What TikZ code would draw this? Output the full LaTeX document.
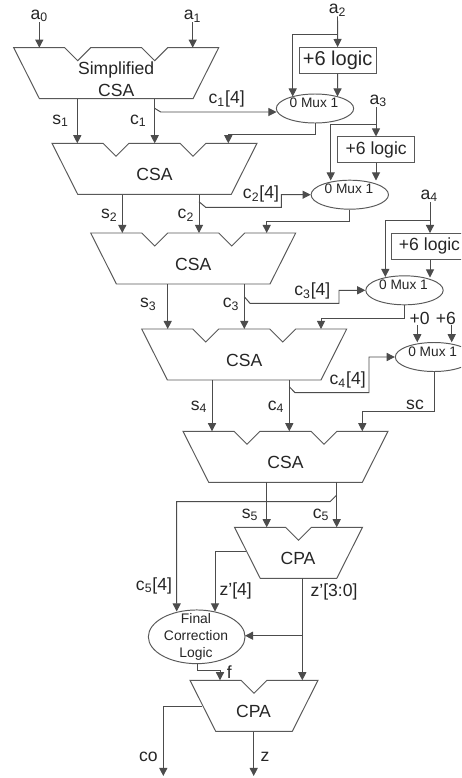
\documentclass[tikz,border=0pt]{standalone}
\usepackage{fontspec}
\setmainfont{Liberation Sans}
\usetikzlibrary{arrows.meta,shapes.geometric}

\tikzset{
  wire/.style={black!70, line width=0.55pt},
  sig/.style={wire, ->},
  blockline/.style={black!65, line width=0.55pt, line join=miter},
  blocktext/.style={align=center, font=\fontsize{10}{12}\selectfont, text=black!85, inner sep=0pt},
  muxnode/.style={draw=black!65, line width=0.55pt, ellipse, minimum width=1.548cm, minimum height=0.58cm, inner sep=0pt},
  muxtext/.style={font=\fontsize{7.8}{9}\selectfont, text=black!85, inner sep=0pt},
  logicbox/.style={draw=black!65, line width=0.55pt, minimum width=1.54cm, minimum height=0.51cm, inner sep=0pt, font=\fontsize{10}{12}\selectfont, text=black!85},
  lab/.style={font=\fontsize{10}{12}\selectfont, text=black!85, inner sep=0pt}
}

% carry-save block: name, left, top, text
\newcommand{\csablock}[4]{
  \begin{scope}[shift={(#2,#3)}]
    \draw[blockline] (0,0) -- (51,0) -- (64,13) -- (77,0) -- (128,0) -- (141,13) -- (154,0) -- (205,0) -- (179.3,51) -- (25.7,51) -- cycle;
    \node[blocktext] (#1) at (102.5,31.5) {#4};
    \coordinate (#1t) at (0,0);
    \coordinate (#1b) at (0,51);
  \end{scope}
}
% carry-propagate block: name, left, top
\newcommand{\cpablock}[3]{
  \begin{scope}[shift={(#2,#3)}]
    \draw[blockline] (0,0) -- (51,0) -- (64,13) -- (77,0) -- (128,0) -- (102.3,51) -- (25.7,51) -- cycle;
    \node[blocktext] (#1) at (63.5,31) {CPA};
    \coordinate (#1t) at (0,0);
    \coordinate (#1b) at (0,51);
  \end{scope}
}

\begin{document}
\begin{tikzpicture}[x=0.02cm, y=-0.02cm, >={Triangle[length=4.6pt,width=4.6pt]}]
  \clip (0,0) rectangle (461,778);
  \fill[white] (0,0) rectangle (461,778);

  % adder blocks
  \csablock{csa1}{13.7}{47.7}{Simplified\\CSA}
  \csablock{csa2}{52}{143.3}{CSA}
  \csablock{csa3}{90.7}{233}{CSA}
  \csablock{csa4}{141.7}{329}{CSA}
  \csablock{csa5}{183}{431.3}{CSA}
  \cpablock{cpa1}{234.5}{527.3}
  \cpablock{cpa2}{190}{680.3}

  % inputs
  \node[lab] (a0) at (39.3,16) {a\textsubscript{0}};
  \node[lab] (a1) at (192.7,16) {a\textsubscript{1}};
  \draw[sig] (a0.south) -- (a0.south |- csa1t);
  \draw[sig] (a1.south) -- (a1.south |- csa1t);

  % first correction stage
  \node[lab] (a2) at (337.5,10) {a\textsubscript{2}};
  \node[logicbox, font=\fontsize{11.4}{13}\selectfont] (box1) at (337.6,60.3) {+6 logic};
  \node[muxnode] (mux1) at (315,108.5) {};
  \node[muxtext] (mux1t) at (314,102.7) {0 Mux 1};
  \coordinate (tee1) at (337.5,34.7);
  \coordinate (mux1a) at (292.7,96.5);
  \coordinate (mux1b) at (337.5,96.5);
  \draw[sig] (a2.south) -- (box1.north);
  \draw[sig] (tee1) -| (mux1a);
  \draw[sig] (box1.south) -- (mux1b);

  \node[lab] (s1) at (60.7,120.7) {s\textsubscript{1}};
  \node[lab] (c1) at (138.3,120.7) {c\textsubscript{1}};
  \node[lab] (c1x) at (226.7,99.3) {c\textsubscript{1}[4]};
  \coordinate (s1o) at (77.3,98.7);
  \coordinate (c1o) at (154.7,98.7);
  \coordinate (c1k) at (154.7,108.3);
  \coordinate (c1e) at (160.7,112);
  \coordinate (mux1w) at (276.5,112);
  \coordinate (mux1o) at (228.3,134.3);
  \draw[sig] (s1o) -- (s1o |- csa2t);
  \draw[sig] (c1o) -- (c1o |- csa2t);
  \draw[sig] (c1k) -- (c1e) -- (mux1w);
  \draw[sig] (mux1.south) |- (mux1o) -- (mux1o |- csa2t);

  % second correction stage
  \node[lab] (a3) at (378.3,100.7) {a\textsubscript{3}};
  \node[logicbox] (box2) at (376.2,149.7) {+6 logic};
  \node[muxnode] (mux2) at (349.8,194.7) {};
  \node[muxtext] (mux2t) at (349,188.7) {0 Mux 1};
  \coordinate (tee2) at (376,124);
  \coordinate (mux2a) at (330.7,180.5);
  \coordinate (mux2b) at (376,180.5);
  \draw[sig] (a3.south -| tee2) -- (box2.north -| tee2);
  \draw[sig] (tee2) -| (mux2a);
  \draw[sig] (box2.south -| tee2) -- (mux2b);

  \node[lab] (s2) at (109.3,215) {s\textsubscript{2}};
  \node[lab] (c2) at (186,215) {c\textsubscript{2}};
  \node[lab] (c2x) at (261,194.3) {c\textsubscript{2}[4]};
  \coordinate (s2o) at (122.3,194.7);
  \coordinate (c2o) at (199,194.7);
  \coordinate (c2k) at (199,201.7);
  \coordinate (c2e) at (205.7,207.3);
  \coordinate (c2j) at (281.3,207.3);
  \coordinate (mux2o) at (266.7,221.3);
  \draw[sig] (s2o) -- (s2o |- csa3t);
  \draw[sig] (c2o) -- (c2o |- csa3t);
  \draw[sig] (c2k) -- (c2e) -- (c2j) |- (mux2.west);
  \draw[sig] (mux2.south) |- (mux2o) -- (mux2o |- csa3t);

  % third correction stage
  \node[lab] (a4) at (429.3,195.7) {a\textsubscript{4}};
  \node[logicbox] (box3) at (429.5,246.3) {+6 logic};
  \node[muxnode] (mux3) at (404.5,290.3) {};
  \node[muxtext] (mux3t) at (403.5,285) {0 Mux 1};
  \coordinate (tee3) at (430,220);
  \coordinate (mux3a) at (385.3,277);
  \coordinate (mux3b) at (430,277.5);
  \draw[sig] (a4.south -| tee3) -- (box3.north -| tee3);
  \draw[sig] (tee3) -| (mux3a);
  \draw[sig] (box3.south -| tee3) -- (mux3b);

  \node[lab] (s3) at (148.3,304.3) {s\textsubscript{3}};
  \node[lab] (c3) at (231,304.3) {c\textsubscript{3}};
  \node[lab] (c3x) at (312.3,291) {c\textsubscript{3}[4]};
  \coordinate (s3o) at (167.7,284.3);
  \coordinate (c3o) at (244.3,284.3);
  \coordinate (c3k) at (244.3,296.7);
  \coordinate (c3e) at (250,303.3);
  \coordinate (c3j) at (339,303.3);
  \coordinate (mux3o) at (321,318.3);
  \draw[sig] (s3o) -- (s3o |- csa4t);
  \draw[sig] (c3o) -- (c3o |- csa4t);
  \draw[sig] (c3k) -- (c3e) -- (c3j) |- (mux3.west);
  \draw[sig] (mux3.south) |- (mux3o) -- (mux3o |- csa4t);

  % fourth stage, sc
  \node[lab] (p0) at (419.7,318.5) {+0};
  \node[lab] (p6) at (446,318.5) {+6};
  \node[muxnode] (mux4) at (434,357) {};
  \node[muxtext] (mux4t) at (432.7,351.7) {0 Mux 1};
  \coordinate (mux4a) at (417.3,342.3);
  \coordinate (mux4b) at (451.7,342.3);
  \draw[sig] (mux4a |- p0.south) -- (mux4a);
  \draw[sig] (mux4b |- p6.south) -- (mux4b);

  \node[lab] (s4) at (199,406.7) {s\textsubscript{4}};
  \node[lab] (c4) at (276,406.7) {c\textsubscript{4}};
  \node[lab] (c4x) at (347.7,380) {c\textsubscript{4}[4]};
  \node[lab] (sc) at (415,405) {sc};
  \coordinate (s4o) at (212,380);
  \coordinate (c4o) at (289.3,380);
  \coordinate (c4k) at (289.3,386.7);
  \coordinate (c4e) at (295,392.7);
  \coordinate (c4j) at (369,392.7);
  \coordinate (mux4o) at (362.3,411.7);
  \draw[sig] (s4o) -- (s4o |- csa5t);
  \draw[sig] (c4o) -- (c4o |- csa5t);
  \draw[sig] (c4k) -- (c4e) -- (c4j) |- (mux4.west);
  \draw[sig] (mux4.south) |- (mux4o) -- (mux4o |- csa5t);

  % final correction
  \node[lab] (s5) at (250,515) {s\textsubscript{5}};
  \node[lab] (c5) at (321,515) {c\textsubscript{5}};
  \node[lab] (c5x) at (154,585.7) {c\textsubscript{5}[4]};
  \node[lab] (z4) at (235.7,590.7) {z'[4]};
  \node[lab] (z30) at (334,591.7) {z'[3:0]};
  \node[draw=black!65, line width=0.55pt, ellipse, minimum width=1.934cm, minimum height=1.074cm, inner sep=0pt] (fcl) at (196.7,636.8) {};
  \node[muxtext, align=center, font=\fontsize{7.9}{9.8}\selectfont] (fclt) at (196,637) {Final\\Correction\\Logic};
  \node[lab] (f) at (229.3,672.3) {f};
  \node[lab] (co) at (148.3,756.7) {co};
  \node[lab] (z) at (265,756.7) {z};

  \coordinate (s5o) at (266.7,482.3);
  \coordinate (c5o) at (336.7,482.3);
  \coordinate (c5k) at (336.7,495);
  \coordinate (c5e) at (330,501.7);
  \coordinate (c5j) at (176.7,501.7);
  \coordinate (fcla) at (176.7,611.5);
  \coordinate (z4o) at (246,551.7);
  \coordinate (z4j) at (215,551.7);
  \coordinate (fclb) at (215,611.5);
  \coordinate (zo) at (302.3,578.3);
  \coordinate (zk) at (302.3,635.7);
  \coordinate (fcle) at (245,635.7);
  \coordinate (fo) at (197.3,663.7);
  \coordinate (fj) at (197.3,670.7);
  \coordinate (fi) at (220,670.7);
  \coordinate (coo) at (201.7,706);
  \coordinate (coj) at (163.3,706);
  \coordinate (coe) at (163.3,776);
  \coordinate (zs) at (253.7,731.7);
  \coordinate (ze) at (253.7,776);

  \draw[sig] (s5o) -- (s5o |- cpa1t);
  \draw[sig] (c5o) -- (c5o |- cpa1t);
  \draw[sig] (c5k) -- (c5e) -- (c5j) -- (fcla);
  \draw[sig] (z4o) -- (z4j) -- (fclb);
  \draw[sig] (zo) -- (zo |- cpa2t);
  \draw[sig] (zk) -- (fcle);
  \draw[sig] (fo) -- (fj) -- (fi) -- (fi |- cpa2t);
  \draw[sig] (coo) -- (coj) -- (coe);
  \draw[sig] (zs) -- (ze);

\end{tikzpicture}
\end{document}
